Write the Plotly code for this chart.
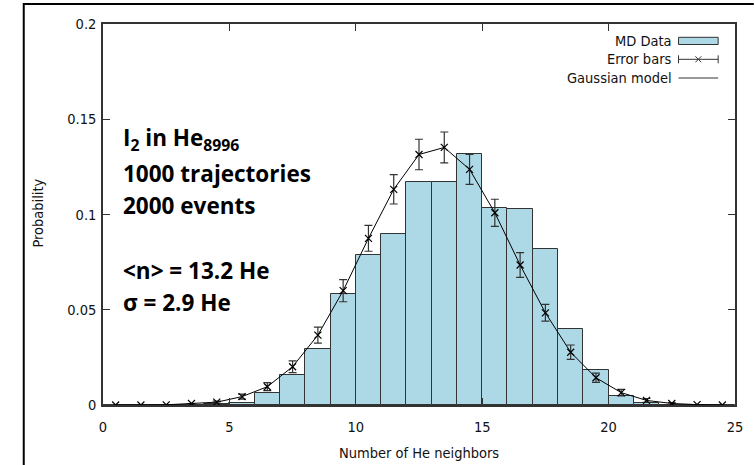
import plotly.graph_objects as go

# ---- data ----
bin_left = list(range(0, 25))  # histogram bins [n, n+1)
md_data = [0, 0, 0, 0, 0.0004, 0.0012, 0.0065, 0.0156, 0.0292, 0.0584,
           0.0789, 0.0899, 0.1172, 0.1172, 0.1315, 0.1032, 0.1028, 0.0820,
           0.0397, 0.0184, 0.0047, 0.0012, 0, 0, 0]
model_x = [n + 0.5 for n in bin_left]
model_y = [0.0, 0.0, 0.0001, 0.0008, 0.0015, 0.0044, 0.0096, 0.0201, 0.0367,
           0.0600, 0.0875, 0.1132, 0.1315, 0.1352, 0.1237, 0.1009, 0.0735,
           0.0484, 0.0277, 0.0143, 0.0065, 0.0024, 0.0008, 0.0002, 0.0]
model_err = [0, 0, 0, 0, 0.0005, 0.0013, 0.0021, 0.0031, 0.0042, 0.0058,
             0.0068, 0.0077, 0.0080, 0.0081, 0.0079, 0.0071, 0.0065, 0.0044,
             0.0038, 0.0024, 0.0017, 0.0010, 0.0005, 0, 0]
x_ticks = [0, 5, 10, 15, 20, 25]
y_ticks = [0, 0.05, 0.1, 0.15, 0.2]
y_tick_text = ["0", "0.05", "0.1", "0.15", "0.2"]

W, H = 755, 465
L, R, T, B = 103, 14, 24, 60
pw, ph = W - L - R, H - T - B

def px(x):
    return (x - L) / pw

def py(y):
    return (H - B - y) / ph

FAM = "DejaVu Sans Condensed, Liberation Sans Narrow, sans-serif"
AXFONT = dict(family=FAM, size=14.5, color="#111")
BIG = dict(family="Open Sans, Lato, sans-serif", size=22.5, color="black")

fig = go.Figure()
fig.add_trace(go.Bar(
    x=[n + 0.5 for n in bin_left], y=md_data, width=1,
    marker=dict(color="#ADD8E6", line=dict(color="#333333", width=1)),
    name="MD Data", showlegend=False,
))
fig.add_trace(go.Scatter(
    x=model_x, y=model_y, mode="lines+markers",
    line=dict(color="black", width=1),
    marker=dict(symbol="x-thin", size=7, line=dict(color="black", width=1.2), color="black"),
    error_y=dict(type="data", array=model_err, visible=True, color="#333", thickness=1.2, width=4),
    name="Gaussian model", showlegend=False,
))

axis_common = dict(showgrid=False, zeroline=False, showline=True, mirror="ticks",
                   linecolor="#333", linewidth=1.5, ticks="inside", ticklen=7,
                   tickcolor="#333", tickwidth=1, tickfont=AXFONT)
fig.update_xaxes(range=[0, 25], tickvals=x_ticks, ticklabelstandoff=8, **axis_common)
fig.update_yaxes(range=[0, 0.2], tickvals=y_ticks, ticktext=y_tick_text,
                 ticklabelstandoff=2, **axis_common)

ann = []
ann.append(dict(x=px(37), y=py(213), xref="paper", yref="paper", text="Probability",
                textangle=-90, showarrow=False, font=AXFONT, xanchor="center", yanchor="middle"))
ann.append(dict(x=px(422), y=py(453), xref="paper", yref="paper", text="Number of He neighbors",
                showarrow=False, font=AXFONT, xanchor="center", yanchor="middle"))
# big text block
lines = [("I<sub>2</sub> in He<sub>8996</sub>", 139), ("1000 trajectories", 173),
         ("2000 events", 205), ("&lt;n&gt; = 13.2 He", 270), ("σ = 2.9 He", 302)]
for t, yy in lines:
    ann.append(dict(x=px(121), y=py(yy), xref="paper", yref="paper", text="<b>" + t + "</b>",
                    xanchor="left", yanchor="middle", showarrow=False, font=BIG))
# legend labels
LEGFONT = dict(family=FAM, size=14.5, color="#111")
for t, yy in [("MD Data", 41), ("Error bars", 59.3), ("Gaussian model", 78)]:
    ann.append(dict(x=px(679), y=py(yy), xref="paper", yref="paper", text=t,
                    xanchor="right", yanchor="middle", showarrow=False, font=LEGFONT))

shapes = []
# legend symbols
shapes.append(dict(type="rect", xref="paper", yref="paper", x0=px(684), x1=px(724),
                   y0=py(44.5), y1=py(37.3), fillcolor="#ADD8E6", line=dict(color="#333", width=1)))
ey = 59.3
shapes.append(dict(type="line", xref="paper", yref="paper", x0=px(684), x1=px(724),
                   y0=py(ey), y1=py(ey), line=dict(color="#333", width=1)))
for xx in (684, 724):
    shapes.append(dict(type="line", xref="paper", yref="paper", x0=px(xx), x1=px(xx),
                       y0=py(ey - 4), y1=py(ey + 4), line=dict(color="#333", width=1)))
for d in (1, -1):
    shapes.append(dict(type="line", xref="paper", yref="paper", x0=px(704 - 3), x1=px(704 + 3),
                       y0=py(ey - 3 * d), y1=py(ey + 3 * d), line=dict(color="#333", width=1)))
shapes.append(dict(type="line", xref="paper", yref="paper", x0=px(684), x1=px(724),
                   y0=py(78), y1=py(78), line=dict(color="#333", width=1)))
# outer slide frame
shapes.append(dict(type="line", xref="paper", yref="paper", x0=px(23), x1=px(760),
                   y0=py(4), y1=py(4), line=dict(color="black", width=2)))
shapes.append(dict(type="line", xref="paper", yref="paper", x0=px(23), x1=px(23),
                   y0=py(3), y1=py(470), line=dict(color="black", width=2)))

fig.update_layout(
    width=W, height=H, margin=dict(l=L, r=R, t=T, b=B),
    paper_bgcolor="white", plot_bgcolor="white", showlegend=False,
    annotations=ann, shapes=shapes, bargap=0,
)
fig.write_html("out.html")
